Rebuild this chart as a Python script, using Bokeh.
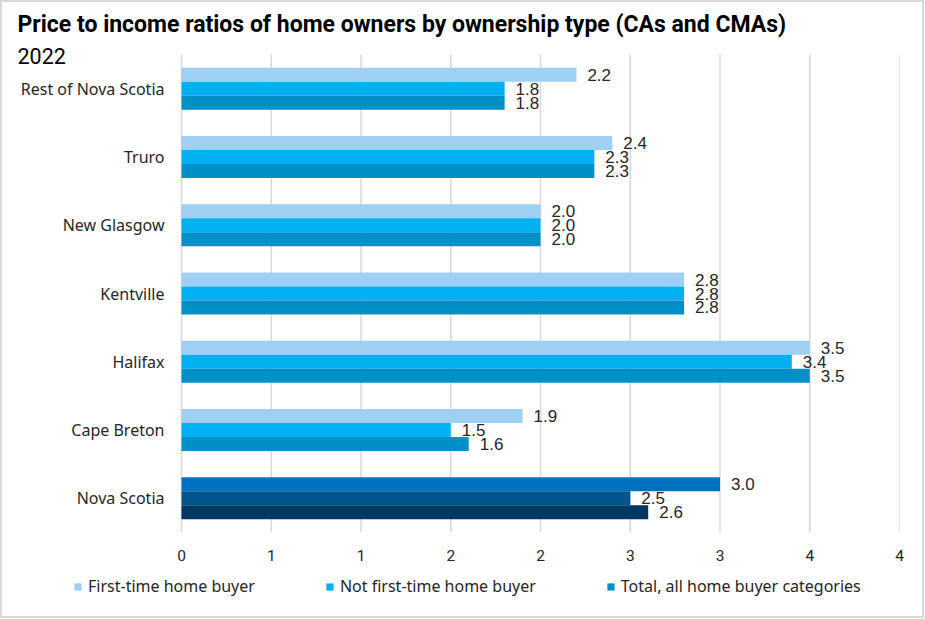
from bokeh.plotting import figure
from bokeh.models import (ColumnDataSource, FixedTicker, Legend, LegendItem, Label, Range1d)
from bokeh.layouts import column
from bokeh.core.properties import value
from bokeh.embed import file_html
from bokeh.resources import INLINE

# ---- data ----
categories = ["Rest of Nova Scotia", "Truro", "New Glasgow", "Kentville", "Halifax", "Cape Breton", "Nova Scotia"]
first_time = [2.2, 2.4, 2.0, 2.8, 3.5, 1.9, 3.0]
not_first_time = [1.8, 2.3, 2.0, 2.8, 3.4, 1.5, 2.5]
total_all = [1.8, 2.3, 2.0, 2.8, 3.5, 1.6, 2.6]
series_names = ["First-time home buyer", "Not first-time home buyer", "Total, all home buyer categories"]
tick_values = [0, 0.5, 1.0, 1.5, 2.0, 2.5, 3.0, 3.5, 4.0]
tick_labels = ["0", "1", "1", "2", "2", "3", "3", "4", "4"]
title_text = "Price to income ratios of home owners by ownership type (CAs and CMAs)"
subtitle_text = "2022"

series_colors = ["#A0CFF4", "#00B0F0", "#0090C8"]
ns_colors = ["#0070C0", "#00558F", "#003760"]

# ---- layout geometry (pixels, inside a 2px grey frame) ----
PAD = 2
W, H1, H2 = 920, 571, 43
frame_w = 899 - PAD       # frame spans from the left edge to this pixel
frame_h = 532 - PAD
plot_left = 181 - PAD     # pixel where value 0 sits
plot_top = 54 - PAD       # pixel where the category band starts
n = len(categories)
x_max = tick_values[-1]
x_min = -plot_left * x_max / (frame_w - plot_left)
y_top = n + plot_top * n / (frame_h - plot_top)

p = figure(width=W, height=H1, output_backend="svg", toolbar_location=None,
           x_range=Range1d(x_min, x_max), y_range=Range1d(0, y_top),
           y_axis_location=None,
           min_border_left=0, min_border_right=W - frame_w, min_border_top=0,
           min_border_bottom=H1 - frame_h)
p.outline_line_color = None
p.background_fill_color = "white"
p.border_fill_color = "white"
p.xgrid.visible = False
p.ygrid.visible = False

# category positions (top category first)
ypos = [n - 0.5 - k for k in range(n)]

# vertical gridlines over the category band
p.segment(x0=tick_values, x1=tick_values, y0=[0] * len(tick_values), y1=[n] * len(tick_values),
          line_color="#D9D9D9", line_width=1.5)

bar_h = 0.205
offsets = [bar_h, 0.0, -bar_h]
all_series = [first_time, not_first_time, total_all]
for i, vals in enumerate(all_series):
    colors = [ns_colors[i] if c == "Nova Scotia" else series_colors[i] for c in categories]
    src = ColumnDataSource(dict(y=[yy + offsets[i] for yy in ypos], v=vals, color=colors,
                                lbl=["%.1f" % v for v in vals]))
    p.hbar(y="y", right="v", left=0, height=bar_h, fill_color="color", line_color=None, source=src)
    p.text(x="v", y="y", text="lbl", source=src,
           x_offset=11, text_align="left", text_baseline="middle",
           text_font=value("Liberation Sans"), text_font_size="17px", text_color="#262626")

# category labels
csrc = ColumnDataSource(dict(y=ypos, name=categories, x=[0] * n))
p.text(x="x", y="y", text="name", source=csrc, x_offset=-17, text_align="right",
       text_baseline="middle", text_font=value("Noto Sans"), text_font_size="16px",
       text_color="#262626")

# x axis
p.xaxis.ticker = FixedTicker(ticks=tick_values)
p.xaxis.major_label_overrides = {v: l for v, l in zip(tick_values, tick_labels)}
ax = p.xaxis[0]
ax.axis_line_color = None
ax.major_tick_line_color = None
ax.minor_tick_line_color = None
ax.major_tick_out = 0
ax.major_tick_in = 0
ax.major_label_text_font = "Roboto"
ax.major_label_text_font_size = "15.5px"
ax.major_label_text_color = "#262626"
ax.major_label_standoff = 17

# titles (inside the frame, screen units from the frame's bottom-left)
p.add_layout(Label(x=17 - PAD, y=frame_h - 10 + PAD, x_units="screen", y_units="screen",
                   text=title_text, text_font="Roboto", text_font_style="bold",
                   text_font_size="23px", text_baseline="top", text_color="#000000"))
p.add_layout(Label(x=17 - PAD, y=frame_h - 47 + PAD, x_units="screen", y_units="screen",
                   text=subtitle_text, text_font="Roboto", text_font_size="21.5px",
                   text_baseline="top", text_color="#000000"))

# legend strip (separate figure below the chart)
lg = figure(width=W, height=H2, output_backend="svg", toolbar_location=None,
            x_range=(0, 1), y_range=(0, 1), x_axis_type=None, y_axis_type=None,
            min_border=0)
lg.outline_line_color = None
lg.grid.visible = False
lg.background_fill_color = "white"
lg.border_fill_color = "white"
items = []
for i, vals in enumerate(all_series):
    r = lg.hbar(y=list(range(n)), right=vals, height=0.5, fill_color=series_colors[i],
                line_color=None, visible=False)
    items.append(LegendItem(label=series_names[i], renderers=[r], index=0))
legend = Legend(items=items, orientation="horizontal", location=(73 - PAD, 19),
                glyph_width=9, glyph_height=9, label_standoff=6, spacing=70,
                padding=0, margin=0, label_height=14, click_policy="none",
                label_text_font="Noto Sans", label_text_font_size="16px",
                label_text_color="#262626", background_fill_alpha=0, border_line_color=None)
lg.add_layout(legend, "center")

layout = column(p, lg, spacing=0,
                styles={"border": "%dpx solid #D9D9D9" % PAD, "background-color": "white"})
open("out.html", "w").write(file_html(layout, INLINE))
